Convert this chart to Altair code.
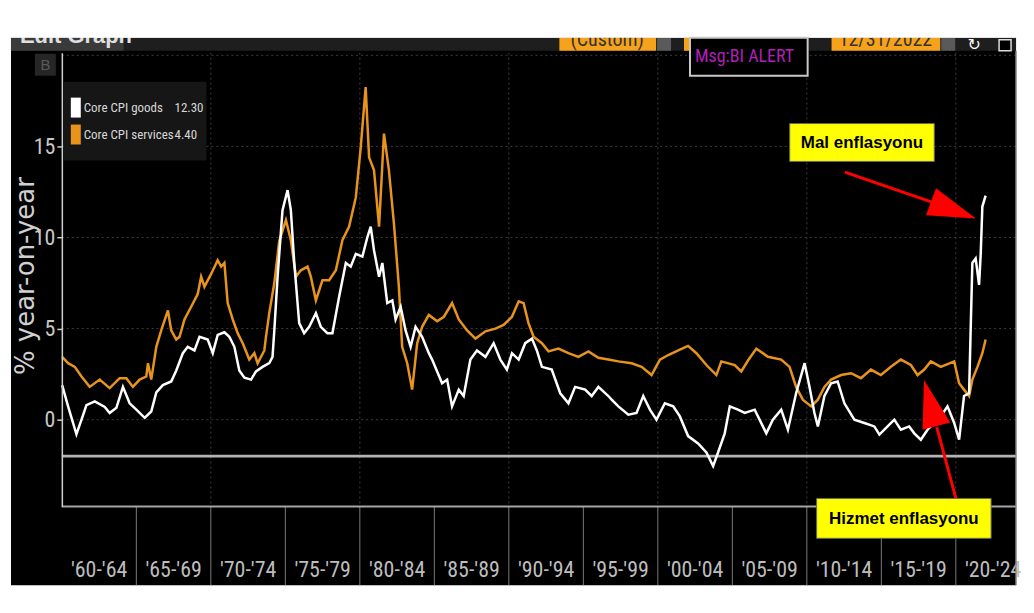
import altair as alt
import pandas as pd

NARROW = "Roboto Condensed, Archivo Narrow, Liberation Sans Narrow, Asap Condensed, Liberation Sans"
ARIAL = "Liberation Sans, Arial"

# ---------------- data ----------------
goods_years = [1960.02, 1960.42, 1960.98, 1961.32, 1961.65, 1962.21, 1962.88, 1963.21, 1963.66, 1964.10,
               1964.55, 1965.00, 1965.56, 1966.00, 1966.34, 1966.78, 1967.34, 1967.68, 1968.12, 1968.45,
               1968.90, 1969.24, 1969.79, 1970.13, 1970.46, 1970.91, 1971.24, 1971.58, 1971.91, 1972.25,
               1972.70, 1973.03, 1973.47, 1973.92, 1974.14, 1974.26, 1974.48, 1974.81, 1975.15, 1975.37,
               1975.60, 1975.93, 1976.26, 1976.60, 1977.05, 1977.38, 1977.82, 1978.16, 1978.61, 1979.06,
               1979.39, 1979.73, 1980.17, 1980.50, 1980.73, 1980.95, 1981.29, 1981.51, 1981.84, 1982.18,
               1982.40, 1982.74, 1983.07, 1983.41, 1983.74, 1984.18, 1984.63, 1984.85, 1985.52, 1985.86,
               1986.19, 1986.64, 1986.97, 1987.42, 1987.86, 1988.43, 1988.98, 1989.43, 1989.87, 1990.21,
               1990.66, 1991.10, 1991.55, 1991.88, 1992.22, 1992.88, 1993.45, 1994.00, 1994.45, 1995.12,
               1995.56, 1996.01, 1996.68, 1996.90, 1997.35, 1998.02, 1998.57, 1999.02, 1999.47, 1999.91,
               2000.47, 2001.03, 2001.48, 2002.03, 2002.70, 2003.26, 2003.71, 2004.04, 2004.49, 2004.83,
               2005.38, 2005.83, 2006.50, 2007.28, 2007.72, 2008.28, 2008.73, 2009.28, 2009.85, 2010.18,
               2010.51, 2010.74, 2011.18, 2011.63, 2012.07, 2012.52, 2013.19, 2013.86, 2014.53, 2014.87,
               2015.42, 2015.87, 2016.31, 2016.87, 2017.21, 2017.65, 2018.10, 2018.55, 2018.99, 2019.44,
               2019.89, 2020.22, 2020.55, 2020.89, 2021.00, 2021.11, 2021.33, 2021.56, 2021.67, 2021.78,
               2022.00]
goods_values = [1.9, 0.73, -0.8, 0.0, 0.8, 1.0, 0.7, 0.37, 0.65, 1.8,
                0.9, 0.55, 0.1, 0.45, 1.5, 1.9, 2.1, 2.7, 3.65, 4.0,
                3.8, 4.55, 4.4, 3.65, 4.65, 4.8, 4.55, 4.0, 2.7, 2.3,
                2.2, 2.65, 2.9, 3.1, 3.45, 4.9, 7.85, 11.5, 12.6, 11.5,
                8.6, 5.3, 4.75, 5.1, 5.85, 5.1, 4.75, 4.75, 6.75, 8.6,
                8.4, 9.1, 8.95, 10.0, 10.6, 9.3, 7.85, 8.6, 6.4, 6.55,
                5.5, 6.2, 4.9, 4.0, 5.1, 4.55, 3.65, 3.3, 2.0, 2.2,
                0.73, 1.65, 1.3, 3.3, 3.8, 3.45, 4.2, 3.3, 2.75, 3.65,
                3.3, 4.2, 4.45, 3.8, 2.9, 2.75, 1.45, 0.9, 1.8, 1.65,
                1.3, 1.8, 1.3, 1.1, 0.73, 0.27, 0.37, 1.3, 0.55, 0.0,
                0.9, 0.73, 0.18, -0.9, -1.3, -1.8, -2.55, -1.8, -0.75, 0.73,
                0.55, 0.37, 0.55, -0.75, 0.0, 0.55, -0.55, 1.45, 3.1, 1.8,
                0.37, -0.37, 1.3, 2.0, 2.1, 0.9, 0.0, -0.18, -0.37, -0.82,
                -0.37, 0.0, -0.55, -0.37, -0.75, -1.1, -0.55, -0.18, 0.18, 0.73,
                -0.18, -1.1, 1.3, 1.45, 5.1, 8.6, 8.85, 7.4, 9.1, 11.7,
                12.3]

services_years = [1960.02, 1960.42, 1960.87, 1961.32, 1961.87, 1962.54, 1963.21, 1963.88, 1964.33, 1964.77,
                  1965.22, 1965.67, 1965.78, 1966.00, 1966.34, 1966.67, 1967.12, 1967.34, 1967.68, 1967.90,
                  1968.23, 1968.68, 1969.12, 1969.35, 1969.57, 1970.02, 1970.46, 1970.69, 1970.91, 1971.13,
                  1971.47, 1971.80, 1972.14, 1972.58, 1972.92, 1973.14, 1973.59, 1973.70, 1973.92, 1974.26,
                  1974.59, 1975.04, 1975.37, 1975.71, 1976.04, 1976.49, 1976.71, 1977.05, 1977.49, 1977.94,
                  1978.39, 1978.83, 1979.28, 1979.73, 1980.06, 1980.39, 1980.62, 1980.95, 1981.29, 1981.62,
                  1981.95, 1982.29, 1982.62, 1982.84, 1983.18, 1983.51, 1983.85, 1984.18, 1984.63, 1985.19,
                  1985.64, 1986.19, 1986.64, 1987.20, 1987.76, 1988.43, 1989.10, 1989.65, 1990.21, 1990.66,
                  1990.99, 1991.32, 1991.66, 1992.22, 1992.66, 1993.33, 1994.00, 1994.67, 1995.34, 1996.01,
                  1996.68, 1997.35, 1998.24, 1998.91, 1999.58, 2000.14, 2000.70, 2001.37, 2002.03, 2002.59,
                  2003.26, 2003.93, 2004.26, 2005.16, 2005.60, 2006.05, 2006.61, 2007.39, 2008.28, 2008.84,
                  2009.28, 2009.73, 2010.29, 2010.74, 2011.18, 2011.63, 2012.30, 2012.97, 2013.63, 2014.30,
                  2014.97, 2015.64, 2016.31, 2016.98, 2017.43, 2017.88, 2018.32, 2018.99, 2019.89, 2020.22,
                  2020.55, 2020.89, 2021.11, 2021.45, 2021.78, 2022.00]
services_values = [3.45, 3.1, 2.9, 2.37, 1.8, 2.2, 1.73, 2.28, 2.28, 1.8,
                   2.2, 2.37, 3.1, 2.2, 4.0, 4.9, 6.0, 4.9, 4.4, 4.55,
                   5.5, 6.2, 6.9, 7.85, 7.3, 8.0, 8.75, 8.4, 8.6, 6.4,
                   5.5, 4.75, 4.2, 3.3, 3.65, 3.1, 3.8, 4.55, 5.85, 7.5,
                   9.8, 10.95, 9.85, 7.85, 8.2, 8.4, 7.85, 6.55, 7.65, 7.65,
                   8.2, 9.85, 10.6, 12.2, 14.95, 18.25, 14.4, 13.7, 10.6, 15.7,
                   13.7, 10.75, 7.3, 4.0, 3.1, 1.65, 4.2, 5.1, 5.75, 5.4,
                   5.65, 6.4, 5.5, 4.9, 4.45, 4.85, 5.0, 5.2, 5.65, 6.5,
                   6.4, 5.3, 4.55, 4.2, 3.75, 3.9, 3.65, 3.45, 3.75, 3.4,
                   3.3, 3.2, 3.1, 2.9, 2.45, 3.3, 3.55, 3.8, 4.05, 3.65,
                   3.0, 2.45, 3.2, 3.0, 2.65, 3.25, 3.9, 3.45, 3.3, 2.9,
                   1.8, 1.1, 0.73, 1.1, 1.8, 2.2, 2.45, 2.55, 2.28, 2.75,
                   2.45, 2.9, 3.3, 3.0, 2.45, 2.75, 3.2, 2.9, 3.2, 2.0,
                   1.65, 1.3, 2.2, 2.9, 3.65, 4.4]

series_names = ["Core CPI goods", "Core CPI services"]
series_last = ["12.30", "4.40"]
series_colors = ["#ffffff", "#e8941c"]

period_labels = ["'60-'64", "'65-'69", "'70-'74", "'75-'79", "'80-'84", "'85-'89", "'90-'94",
                 "'95-'99", "'00-'04", "'05-'09", "'10-'14", "'15-'19", "'20-'24"]
period_starts = [1960, 1965, 1970, 1975, 1980, 1985, 1990, 1995, 2000, 2005, 2010, 2015, 2020]
y_tick_values = [0, 5, 10, 15]
y_grid_values = [0, 5, 10, 15, 20]
x_grid_years = [1970, 1980, 1990, 2000, 2010, 2020]
baseline_value = [-2]

# ---------------- layout ----------------
W, H = 957, 455
OX, OY = 62, 52          # page position of the plot origin
xs = alt.Scale(domain=[1960, 2024.04], nice=False, zero=False)
ys = alt.Scale(domain=[-4.76, 20.14], nice=False, zero=False)
yaxis = alt.Axis(values=y_tick_values, labelFont=NARROW, labelFontSize=22, labelColor="#c8c8c8",
                 tickColor="#cfcfcf", tickSize=5, tickWidth=1.5, domainColor="#cfcfcf", domainWidth=1.5,
                 grid=False, title=None, labelPadding=2, zindex=2)
one = alt.Data(values=[{"k": 0}])


def prect(x1, y1, x2, y2, fill, stroke=None, sw=0):
    kw = dict(fill=fill, opacity=1)
    if stroke:
        kw.update(stroke=stroke, strokeWidth=sw)
    return alt.Chart(one).mark_rect(**kw).encode(
        x=alt.value(x1 - OX), x2=alt.value(x2 - OX), y=alt.value(y1 - OY), y2=alt.value(y2 - OY))


def ptext(x, y, s, size, color, font=NARROW, align="left", baseline="middle", weight="normal", angle=None):
    kw = dict(text=s, fontSize=size, color=color, font=font, align=align, baseline=baseline, fontWeight=weight)
    if angle is not None:
        kw["angle"] = angle
    return alt.Chart(one).mark_text(**kw).encode(x=alt.value(x - OX), y=alt.value(y - OY))


def prule(x1, y1, x2, y2, color, w):
    return alt.Chart(one).mark_rule(color=color, strokeWidth=w).encode(
        x=alt.value(x1 - OX), x2=alt.value(x2 - OX), y=alt.value(y1 - OY), y2=alt.value(y2 - OY))


def phead(x, y, angle, size):
    return alt.Chart(one).mark_point(shape="M0,-1L0.6,1L-0.6,1Z", size=size, angle=angle, filled=True,
                                     color="#ff0000", opacity=1, strokeWidth=0).encode(
        x=alt.value(x - OX), y=alt.value(y - OY))


layers = []
# screenshot panel and Bloomberg toolbar
layers.append(prect(11, 37, 1019, 586, "#000000"))
layers.append(prect(11, 37, 1019, 50, "#1e1e1e"))
layers.append(prect(11, 37, 124, 50, "#3a3a3a"))
layers.append(ptext(20, 42, "Edit Graph", 22, "#e0e0e0", font=ARIAL, baseline="alphabetic", weight="bold"))
layers.append(prect(561, 37, 658, 50, "#f7a21b"))
layers.append(ptext(609, 45, "(Custom)", 20, "#333333", align="center", baseline="alphabetic"))
layers.append(prect(659, 37, 673, 50, "#5a5a5a"))
layers.append(prect(686, 37, 693, 50, "#f7a21b"))
layers.append(prect(834, 37, 943, 50, "#f7a21b"))
layers.append(ptext(888, 45, "12/31/2022", 20, "#333333", align="center", baseline="alphabetic"))
layers.append(prect(944, 37, 958, 50, "#5a5a5a"))
layers.append(ptext(977, 44, "↻", 16, "#ffffff", font="DejaVu Sans", align="center"))
layers.append(prect(1002, 39, 1014, 50, "#000000", stroke="#dddddd", sw=1.5))
layers.append(prect(0, 0, 1034, 37, "#ffffff"))
layers.append(prect(35, 53, 56, 75, "#262626"))
layers.append(ptext(45.5, 64, "B", 15, "#5a5a5a", font=ARIAL, align="center"))

# grid lines
df_gy = pd.DataFrame({"v": y_grid_values})
layers.append(alt.Chart(df_gy).mark_rule(color="#3d3d3d", strokeWidth=1, strokeDash=[2, 3]).encode(
    y=alt.Y("v:Q", scale=ys, axis=yaxis), x=alt.value(0), x2=alt.value(W)))
df_gx = pd.DataFrame({"year": x_grid_years})
layers.append(alt.Chart(df_gx).mark_rule(color="#3d3d3d", strokeWidth=1, strokeDash=[2, 3]).encode(
    x=alt.X("year:Q", scale=xs, axis=None), y=alt.value(0), y2=alt.value(H)))

# legend
layers.append(prect(64, 81, 207, 160, "#161616"))
for i, (nm, last, col) in enumerate(zip(series_names, series_last, series_colors)):
    top = 97 + i * 27
    layers.append(prect(71, top, 81, top + 20, col))
    layers.append(ptext(84, top + 10.5, nm, 13, "#d8d8d8"))
    layers.append(ptext(175, top + 10.5, last, 13, "#d8d8d8"))

# lower band with period labels
df_sep = pd.DataFrame({"year": period_starts[1:]})
layers.append(alt.Chart(df_sep).mark_rule(color="#7a7a7a", strokeWidth=1).encode(
    x=alt.X("year:Q", scale=xs, axis=None), y=alt.value(H), y2=alt.value(586 - OY)))
df_lab = pd.DataFrame({"label": period_labels, "mid": [s + 2.5 for s in period_starts]})
layers.append(alt.Chart(df_lab).mark_text(font=NARROW, fontSize=22, color="#bdbdbd", baseline="middle").encode(
    x=alt.X("mid:Q", scale=xs, axis=None), y=alt.value(571 - OY), text="label:N"))

# -2 reference line, bottom and right borders
layers.append(alt.Chart(pd.DataFrame({"v": baseline_value})).mark_rule(color="#b4b4b4", strokeWidth=3).encode(
    y=alt.Y("v:Q", scale=ys, axis=yaxis), x=alt.value(0), x2=alt.value(W)))
layers.append(prule(62, 507, 1019, 507, "#a5a5a5", 2))
layers.append(prule(1019, 50, 1019, 586, "#8a8a8a", 1.5))

# data lines
df_s = pd.DataFrame({"year": services_years, "value": services_values})
df_g = pd.DataFrame({"year": goods_years, "value": goods_values})
layers.append(alt.Chart(df_s).mark_line(color=series_colors[1], strokeWidth=2.5).encode(
    x=alt.X("year:Q", scale=xs, axis=None), y=alt.Y("value:Q", scale=ys, axis=yaxis)))
layers.append(alt.Chart(df_g).mark_line(color=series_colors[0], strokeWidth=2.5).encode(
    x=alt.X("year:Q", scale=xs, axis=None), y=alt.Y("value:Q", scale=ys, axis=yaxis)))

# y title
layers.append(ptext(26, 276, "% year-on-year", 26, "#d0d0d0", font="DejaVu Sans", align="center", angle=270))

# Msg box
layers.append(prect(692, 37, 810, 75, "#000000", stroke="#c8c8c8", sw=2))
layers.append(ptext(697, 56, "Msg:BI ALERT", 18, "#b01fb8"))

# annotations
layers.append(prule(847.3, 171.7, 934, 201.5, "#ff0000", 3))
layers.append(phead(956.2, 209.8, 110.4, 2304))
layers.append(prect(792, 123, 937, 161, "#ffff00", stroke="#666666", sw=1))
layers.append(ptext(864.5, 142.5, "Mal enflasyonu", 17, "#000000", font=ARIAL, align="center", weight="bold"))

layers.append(prule(958.7, 499.3, 939.5, 427.5, "#ff0000", 3))
layers.append(phead(932.9, 403.3, 345, 2304))
layers.append(prect(819, 499, 994, 539, "#ffff00", stroke="#666666", sw=1))
layers.append(ptext(906.5, 519.5, "Hizmet enflasyonu", 17, "#000000", font=ARIAL, align="center", weight="bold"))

chart = alt.layer(*layers).properties(
    width=W, height=H,
    autosize=alt.AutoSizeParams(type="none"),
    padding={"left": OX - 8, "top": OY - 8, "right": 10, "bottom": 100},
    background="#ffffff",
).configure_view(stroke=None)

chart.save("out.html", embed_options={"renderer": "svg", "actions": False})
